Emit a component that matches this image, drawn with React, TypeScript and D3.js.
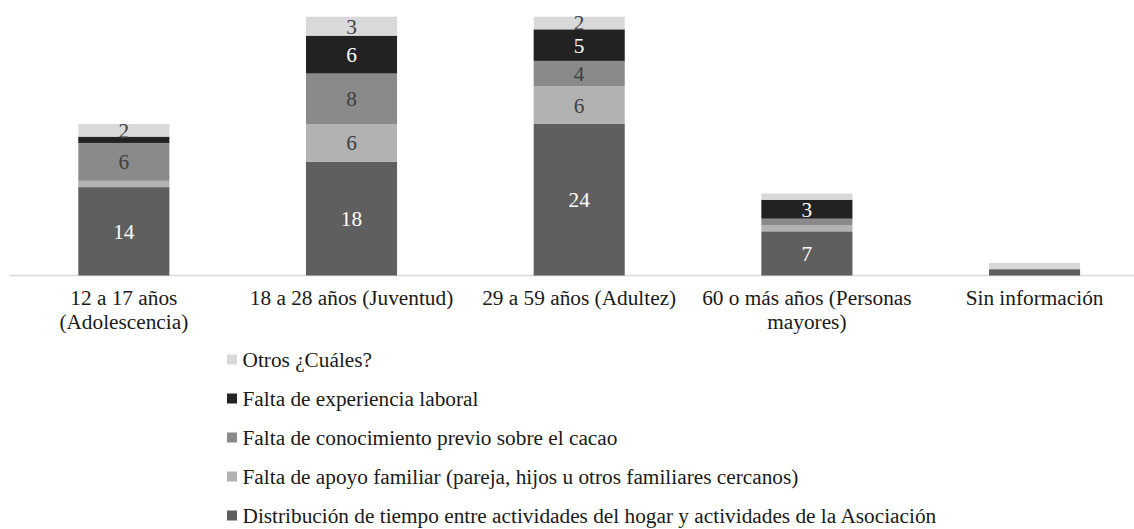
import React from "react";
import * as d3 from "d3";

const categoryLines: string[][] = [
  ["12 a 17 años", "(Adolescencia)"],
  ["18 a 28 años (Juventud)"],
  ["29 a 59 años (Adultez)"],
  ["60 o más años (Personas", "mayores)"],
  ["Sin información"],
];

const seriesNames = [
  "Distribución de tiempo entre actividades del hogar y actividades de la Asociación",
  "Falta de apoyo familiar (pareja, hijos u otros familiares cercanos)",
  "Falta de conocimiento previo sobre el cacao",
  "Falta de experiencia laboral",
  "Otros ¿Cuáles?",
];

const distribucion = [14, 18, 24, 7, 1];
const apoyo = [1, 6, 6, 1, 0];
const conocimiento = [6, 8, 4, 1, 0];
const experiencia = [1, 6, 5, 3, 0];
const otros = [2, 3, 2, 1, 1];

const seriesValues = [distribucion, apoyo, conocimiento, experiencia, otros];
const colors = ["#5f5f5f", "#b2b2b2", "#8a8a8a", "#222222", "#d9d9d9"];
const labelColors = ["#ffffff", "#404040", "#404040", "#ffffff", "#404040"];

const W = 1134;
const H = 529;
const FONT = "'Liberation Serif', 'Times New Roman', serif";
const FS = 21.3;

export default function App() {
  const rows = categoryLines.map((_, i) => {
    const r: Record<string, number> = { idx: i };
    seriesNames.forEach((s, k) => (r[s] = seriesValues[k][i]));
    return r;
  });
  const stack = d3.stack<Record<string, number>>().keys(seriesNames);
  const stacked = stack(rows);

  const x = d3
    .scaleBand<number>()
    .domain(categoryLines.map((_, i) => i))
    .range([10, 1148.4])
    .paddingInner(0.6)
    .paddingOuter(0.3);
  const y = d3.scaleLinear().domain([0, 41]).range([275.5, 16.7]);

  const legendOrder = [4, 3, 2, 1, 0];
  const ts = { fontFamily: FONT };

  return (
    <svg
      width={W}
      height={H}
      style={{ position: "absolute", left: 0, top: 0, background: "#fff", fontFamily: FONT }}
    >
      <line x1={10} x2={W} y1={y(0)} y2={y(0)} stroke="#d9d9d9" strokeWidth={1.5} />
      {stacked.map((layer, k) => (
        <g key={k}>
          {layer.map((d, i) => {
            const v = seriesValues[k][i];
            if (v === 0) return null;
            const x0 = x(i)!;
            const y0 = y(d[1]);
            const h = y(d[0]) - y(d[1]);
            return (
              <g key={i}>
                <rect x={x0} y={y0} width={x.bandwidth()} height={h} fill={colors[k]} />
                {v >= 2 && (
                  <text
                    x={x0 + x.bandwidth() / 2}
                    y={y0 + h / 2}
                    dy="0.35em"
                    textAnchor="middle"
                    fontSize={FS}
                    fill={labelColors[k]}
                    style={ts}
                  >
                    {v}
                  </text>
                )}
              </g>
            );
          })}
        </g>
      ))}
      {categoryLines.map((lines, i) => (
        <text
          key={i}
          x={x(i)! + x.bandwidth() / 2}
          y={305}
          textAnchor="middle"
          fontSize={FS}
          fill="#1a1a1a"
          style={ts}
        >
          {lines.map((l, j) => (
            <tspan key={j} x={x(i)! + x.bandwidth() / 2} dy={j === 0 ? 0 : 23.5}>
              {l}
            </tspan>
          ))}
        </text>
      ))}
      {legendOrder.map((k, r) => {
        const base = 366.5 + r * 39;
        return (
          <g key={k}>
            <rect x={227} y={base - 12} width={10} height={10} fill={colors[k]} />
            <text x={242.5} y={base} fontSize={FS} fill="#1a1a1a" style={ts}>
              {seriesNames[k]}
            </text>
          </g>
        );
      })}
    </svg>
  );
}
